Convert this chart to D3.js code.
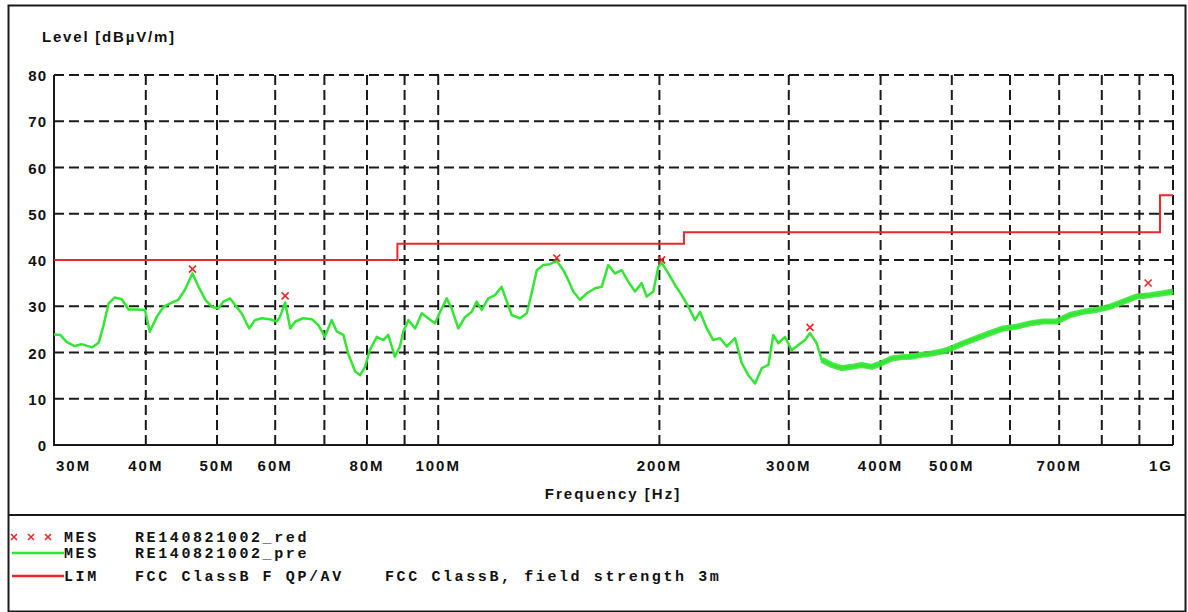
<!DOCTYPE html>
<html>
<head>
<meta charset="utf-8">
<script src="https://cdn.jsdelivr.net/npm/d3@7"></script>
<style>
  body { margin: 0; background: #fff; }
  svg { display: block; }
  .lbl { font-family: "Liberation Sans", Arial, sans-serif; font-weight: bold; fill: #111; }
  .leg { font-family: "Liberation Mono", "Courier New", monospace; font-weight: bold; fill: #111; }
</style>
</head>
<body>
<div id="chart"></div>
<script>
var preFreq = [30.0, 30.6, 31.2, 32.0, 32.7, 33.8, 34.5, 35.0, 35.6, 36.3, 37.1, 37.9, 38.9, 39.9,
  40.5, 41.4, 42.3, 43.4, 44.3, 45.2, 46.3, 47.2, 48.2, 49.2, 50.2, 51.0, 52.1, 52.9, 54.0, 55.3,
  56.3, 57.5, 59.0, 60.3, 60.9, 61.9, 62.9, 63.9, 65.5, 67.3, 68.7, 70.1, 71.6, 72.8, 74.3, 75.5,
  77.1, 78.3, 79.5, 80.7, 82.5, 84.2, 85.5, 87.3, 88.7, 89.6, 91.1, 93.0, 95.0, 96.9, 99.0, 100.6,
  102.7, 104.3, 106.5, 108.8, 111.1, 112.8, 114.6, 117.0, 119.5, 122.0, 123.3, 125.9, 129.2, 132.0,
  134.0, 136.2, 139.0, 141.9, 145.0, 148.0, 150.3, 152.7, 155.9, 159.3, 163.5, 166.9, 170.4, 174.0,
  177.7, 181.4, 185.3, 189.2, 192.2, 196.2, 199.3, 201.4, 205.7, 210.0, 214.5, 219.0, 223.6, 227.1,
  232.0, 236.8, 241.9, 247.0, 253.5, 258.9, 264.3, 269.9, 275.6, 281.4, 285.8, 290.3, 296.4, 302.7,
  309.1, 315.6, 320.6, 327.4, 332.6, 343.2, 354.1, 365.4, 377.0, 389.0, 401.4, 414.1, 427.3, 440.9,
  455.0, 469.4, 484.5, 499.9, 518.4, 540.6, 563.6, 587.6, 612.8, 639.0, 666.2, 694.7, 724.2, 755.0,
  787.3, 820.8, 855.8, 892.3, 930.5, 970.1, 1000];
var preLevel = [23.9, 23.8, 22.3, 21.4, 21.8, 21.1, 22.1, 25.6, 30.6, 31.9, 31.5, 29.3, 29.3, 29.2,
  24.5, 27.7, 29.9, 30.8, 31.4, 33.5, 37.1, 34.2, 31.4, 29.9, 29.5, 31.0, 31.7, 30.3, 28.5, 25.2,
  27.0, 27.4, 27.2, 26.7, 27.7, 30.8, 25.2, 26.7, 27.4, 27.2, 25.9, 23.4, 27.0, 24.5, 23.8, 19.5,
  15.9, 15.1, 16.9, 20.5, 23.4, 22.7, 23.8, 19.1, 21.3, 24.5, 27.0, 25.2, 28.5, 27.4, 26.3, 28.8,
  31.7, 29.5, 25.2, 27.7, 28.8, 31.0, 29.2, 31.7, 32.4, 34.2, 32.1, 28.1, 27.4, 28.5,
  32.8, 37.8, 38.9, 39.1, 39.8, 37.8, 35.7, 33.2, 31.4, 32.8, 33.9, 34.2, 38.9, 37.1,
  37.8, 35.3, 33.2, 35.0, 32.1, 33.2, 38.5, 39.4, 37.1, 34.6, 32.4, 29.9, 27.0, 28.8,
  25.2, 22.7, 23.1, 21.3, 23.1, 17.7, 15.1, 13.3, 16.6, 17.3, 23.8, 22.0, 23.4, 20.5,
  21.6, 22.7, 24.2, 22.0, 18.4, 17.3, 16.6, 16.9, 17.3, 16.9, 17.7, 18.7, 19.0, 19.1,
  19.5, 19.8, 20.2, 20.9, 22.0, 23.1, 24.2, 25.2, 25.6, 26.3, 26.7, 26.7, 28.1, 28.8,
  29.2, 29.9, 31.0, 32.1, 32.4, 32.8, 33.2];

// final measurement points
var redFreq = [46.3, 61.9, 145.0, 201.4, 320.6, 925];
var redLevel = [37.6, 31.8, 40.0, 39.6, 25.0, 34.6];

// FCC class B limit, steps start at these frequencies
var limFreq = [30, 88, 216, 960, 1000];
var limLevel = [40, 43.5, 46, 54, 54];

var yTicks = [0, 10, 20, 30, 40, 50, 60, 70, 80];
var gridFreq = [40, 50, 60, 70, 80, 90, 100, 200, 300, 400, 500, 600, 700, 800, 900, 1000];
var xTickFreq = [30, 40, 50, 60, 80, 100, 200, 300, 400, 500, 700, 1000];
var xTickText = ["30M", "40M", "50M", "60M", "80M", "100M", "200M", "300M", "400M", "500M", "700M", "1G"];

var legendRows = [
  ["MES", "RE140821002_red", ""],
  ["MES", "RE140821002_pre", ""],
  ["LIM", "FCC ClassB F QP/AV", "FCC ClassB, field strength 3m"]
];

var W = 1188, H = 612;
var plotL = 54, plotR = 1173, plotT = 75, plotB = 445;
var green = "#33e633", red = "#e8282c", ink = "#1a1a1a";

var svg = d3.select("#chart").append("svg").attr("width", W).attr("height", H);

var x = d3.scaleLog().domain([30, 1000]).range([plotL, plotR]);
var y = d3.scaleLinear().domain([0, 80]).range([plotB, plotT]);

// frame
svg.append("rect").attr("x", 8.5).attr("y", 5.5).attr("width", 1177).attr("height", 606)
  .attr("fill", "none").attr("stroke", ink).attr("stroke-width", 2);
svg.append("line").attr("x1", 8).attr("x2", 1186).attr("y1", 515).attr("y2", 515)
  .attr("stroke", ink).attr("stroke-width", 2);

// grid
svg.selectAll("line.hgrid").data(yTicks.filter(d => d > 0)).enter()
  .append("line").classed("hgrid", true)
  .attr("x1", plotL).attr("x2", plotR)
  .attr("y1", d => y(d)).attr("y2", d => y(d))
  .attr("stroke", ink).attr("stroke-width", 2).attr("stroke-dasharray", "10,5");
svg.selectAll("line.vgrid").data(gridFreq).enter()
  .append("line").classed("vgrid", true)
  .attr("x1", d => x(d)).attr("x2", d => x(d))
  .attr("y1", plotB).attr("y2", plotT)
  .attr("stroke", ink).attr("stroke-width", 2).attr("stroke-dasharray", "10,5");

// axes (solid left and bottom)
svg.append("path").attr("d", "M" + plotL + "," + plotT + "V" + plotB + "H" + plotR)
  .attr("fill", "none").attr("stroke", ink).attr("stroke-width", 2);

// tick labels
svg.selectAll("text.ylab").data(yTicks).enter()
  .append("text").attr("class", "lbl ylab")
  .attr("x", 47).attr("y", d => y(d) + 6)
  .attr("text-anchor", "end").attr("font-size", 15).attr("letter-spacing", 1)
  .text(d => d);
svg.selectAll("text.xlab").data(xTickFreq).enter()
  .append("text").attr("class", "lbl xlab")
  .attr("x", (d, i) => i == 0 ? plotL + 2 : (i == xTickFreq.length - 1 ? plotR : x(d)))
  .attr("y", 471)
  .attr("text-anchor", (d, i) => i == 0 ? "start" : (i == xTickFreq.length - 1 ? "end" : "middle"))
  .attr("font-size", 15).attr("letter-spacing", 2)
  .text((d, i) => xTickText[i]);

svg.append("text").attr("class", "lbl").attr("x", 42).attr("y", 42)
  .attr("font-size", 15).attr("letter-spacing", 1.8).text("Level [dBµV/m]");
svg.append("text").attr("class", "lbl").attr("x", 613).attr("y", 499)
  .attr("text-anchor", "middle").attr("font-size", 15).attr("letter-spacing", 2)
  .text("Frequency [Hz]");

// limit line
var limPts = limFreq.map((f, i) => [f, limLevel[i]]);
svg.append("path").datum(limPts)
  .attr("d", d3.line().x(d => x(d[0])).y(d => y(d[1])).curve(d3.curveStepAfter))
  .attr("fill", "none").attr("stroke", red).attr("stroke-width", 2);

// trace
var prePts = preFreq.map((f, i) => [f, preLevel[i]]);
var traceLine = d3.line().x(d => x(d[0])).y(d => y(d[1]));
svg.append("path").datum(prePts.filter(d => d[0] >= 330))
  .attr("d", traceLine)
  .attr("fill", "none").attr("stroke", green).attr("stroke-width", 6)
  .attr("stroke-linejoin", "round").attr("opacity", 0.9);
svg.append("path").datum(prePts)
  .attr("d", traceLine)
  .attr("fill", "none").attr("stroke", green).attr("stroke-width", 2.5)
  .attr("stroke-linejoin", "round");

// final markers
function cross(g, cx, cy, s) {
  g.append("path")
    .attr("d", "M" + (cx - s) + "," + (cy - s) + "L" + (cx + s) + "," + (cy + s) +
      "M" + (cx + s) + "," + (cy - s) + "L" + (cx - s) + "," + (cy + s))
    .attr("stroke", red).attr("stroke-width", 1.6).attr("fill", "none");
}
redFreq.forEach((f, i) => cross(svg, x(f), y(redLevel[i]) - 2, 3.5));

// legend
var legY = [537, 553, 576];
var leg = svg.append("g");
[14, 31, 48].forEach(cx => cross(leg, cx, legY[0], 3));
leg.append("line").attr("x1", 12).attr("x2", 64).attr("y1", legY[1]).attr("y2", legY[1])
  .attr("stroke", green).attr("stroke-width", 2.5);
leg.append("line").attr("x1", 12).attr("x2", 64).attr("y1", legY[2]).attr("y2", legY[2])
  .attr("stroke", red).attr("stroke-width", 2.5);
legendRows.forEach((row, i) => {
  [64, 135, 385].forEach((tx, j) => {
    if (!row[j]) return;
    leg.append("text").attr("class", "leg")
      .attr("x", tx).attr("y", legY[i] + 5)
      .attr("font-size", 15).attr("letter-spacing", 2.6)
      .text(row[j]);
  });
});
</script>
</body>
</html>
